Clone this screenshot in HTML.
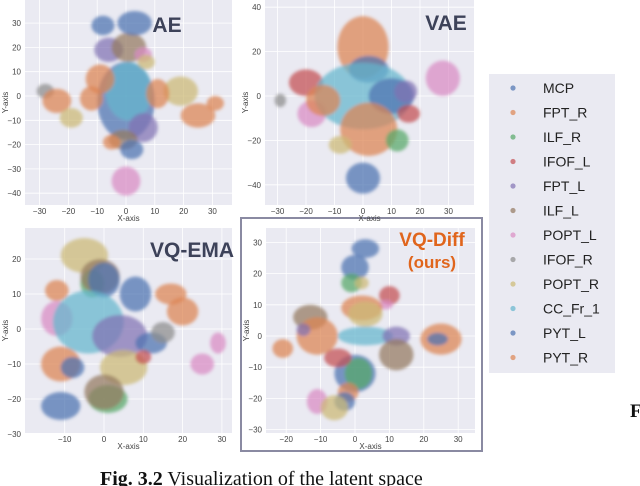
<!DOCTYPE html>
<html><head><meta charset="utf-8">
<style>
html,body{margin:0;padding:0;background:#fff;}
body{width:640px;height:486px;overflow:hidden;position:relative;font-family:"Liberation Sans",sans-serif;}
svg{position:absolute;left:0;top:0;}
</style></head>
<body>
<svg id="fig" width="640" height="486" viewBox="0 0 640 486" xmlns="http://www.w3.org/2000/svg">
<defs><filter id="soft" x="-20%" y="-20%" width="140%" height="140%"><feGaussianBlur stdDeviation="1.5"/></filter></defs>
<rect x="241" y="218" width="241" height="233" fill="#fff" stroke="#8a8aa2" stroke-width="2"/>
<g id="panels"></g>
<g id="legend"></g>
<text x="100" y="485" font-family="Liberation Serif, serif" font-size="20" fill="#111"><tspan font-weight="bold">Fig. 3.2</tspan> Visualization of the latent space</text>
<text x="630" y="417" font-family="Liberation Serif, serif" font-size="19" font-weight="bold" fill="#111">F</text>
</svg>
<script>
const classNames=["MCP","FPT_R","ILF_R","IFOF_L","FPT_L","ILF_L","POPT_L","IFOF_R","POPT_R","CC_Fr_1","PYT_L","PYT_R"];
const classColors=["#4c72b0","#dd8452","#55a868","#c44e52","#8172b3","#937860","#da8bc3","#8c8c8c","#ccb974","#64b5cd","#4c72b0","#dd8452"];
// clusters: [classIndex, cx, cy, rx, ry] in data units
const aeClusters=[[0,0,-2,10,16],[9,1,2,8,12],[1,-9,7,5,6],[1,-12,-1,4,5],[4,-6,19,5,5],[5,1,20,6,6],[6,6,17,3,3],[8,7,14,3,3],[0,-8,29,4,4],[0,3,30,6,5],[4,6,-13,5,6],[7,-28,2,3,3],[1,-24,-2,5,5],[8,-19,-9,4,4],[8,19,2,6,6],[1,11,1,4,6],[1,25,-8,6,5],[1,31,-3,3,3],[5,-1,-18,5,4],[1,-5,-19,3,3],[0,2,-22,4,4],[6,0,-35,5,6]];
const vaeClusters=[[1,0,22,9,14],[0,2,12,7,6],[3,-20,6,6,6],[7,-29,-2,2,3],[6,-18,-8,5,6],[9,0,0,17,15],[1,-14,-2,6,7],[0,10,0,8,8],[4,15,2,4,5],[6,28,8,6,8],[1,2,-15,10,12],[2,12,-20,4,5],[8,-8,-22,4,4],[3,16,-8,4,4],[0,0,-37,6,7]];
const emaClusters=[[8,-5,21,6,5],[2,-3,13,3,4],[5,-1,15,5,5],[0,0,14,4,5],[0,8,10,4,5],[1,-12,11,3,3],[1,17,10,4,3],[1,20,5,4,4],[6,-12,3,4,5],[9,-4,2,9,9],[4,4,-2,7,6],[0,12,-4,4,3],[7,15,-1,3,3],[1,-11,-10,5,5],[0,-8,-11,3,3],[8,5,-11,6,5],[3,10,-8,2,2],[6,25,-10,3,3],[6,29,-4,2,3],[2,1,-20,5,4],[5,0,-18,5,5],[0,-11,-22,5,4]];
const diffClusters=[[0,3,28,4,3],[0,0,22,4,4],[2,-1,17,3,3],[8,2,17,2,2],[3,10,13,3,3],[6,9,10,2,1.5],[1,2,9,6,4],[8,3,7,5,4],[5,-13,6,5,4],[1,-11,0,6,6],[4,-15,2,2,2],[9,3,0,8,3],[4,12,0,4,3],[5,12,-6,5,5],[1,25,-1,6,5],[0,24,-1,3,2],[1,-21,-4,3,3],[0,0,-12,6,6],[2,1,-12,4,5],[3,-5,-7,4,3],[1,-2,-18,3,3],[0,-3,-21,3,3],[6,-11,-21,3,4],[8,-6,-23,4,4]];
const aeXTicks=[-30,-20,-10,0,10,20,30], aeYTicks=[30,20,10,0,-10,-20,-30,-40];
const vaeXTicks=[-30,-20,-10,0,10,20,30], vaeYTicks=[40,20,0,-20,-40];
const emaXTicks=[-10,0,10,20,30], emaYTicks=[20,10,0,-10,-20,-30];
const diffXTicks=[-20,-10,0,10,20,30], diffYTicks=[30,20,10,0,-10,-20,-30];

const NS="http://www.w3.org/2000/svg";
function mk(tag,attrs,parent){const e=document.createElementNS(NS,tag);for(const k in attrs)e.setAttribute(k,attrs[k]);parent.appendChild(e);return e;}
const root=document.getElementById('panels');
function panel(name,box,x0,kx,y0,ky,xt,yt,clusters){
  const g=mk('g',{},root);
  
  
  const X=v=>x0+v*kx, Y=v=>y0-v*ky;
  const bg=mk('rect',{x:box[0],y:box[1],width:box[2]-box[0],height:box[3]-box[1],fill:'#eaeaf2'},g);
  
  
  xt.forEach(t=>{mk('line',{x1:X(t),x2:X(t),y1:box[1],y2:box[3],stroke:'#fff','stroke-width':0.8},g);
    const l=mk('text',{x:X(t),y:box[3]+9,'font-size':8,'text-anchor':'middle',fill:'#444'},g);l.textContent=t<0?'\u2212'+(-t):t;
    
    });
  yt.forEach(t=>{mk('line',{x1:box[0],x2:box[2],y1:Y(t),y2:Y(t),stroke:'#fff','stroke-width':0.8},g);
    const l=mk('text',{x:box[0]-4,y:Y(t)+3,'font-size':8,'text-anchor':'end',fill:'#444'},g);l.textContent=t<0?'\u2212'+(-t):t;
    
    });
  const cg=mk('g',{filter:'url(#soft)'},g);
  clusters.forEach(c=>{
    const e=mk('ellipse',{cx:X(c[1]),cy:Y(c[2]),rx:c[3]*kx,ry:c[4]*ky,fill:classColors[c[0]],'fill-opacity':0.72},cg);
    
    
  });
  const xl=mk('text',{x:(box[0]+box[2])/2,y:box[3]+16,'font-size':8,'text-anchor':'middle',fill:'#444'},g);xl.textContent='X-axis';
  
  
  const yc=(box[1]+box[3])/2;
  const yl=mk('text',{x:box[0]-17,y:yc,'font-size':8,'text-anchor':'middle',fill:'#444',transform:`rotate(-90 ${box[0]-17} ${yc})`},g);yl.textContent='Y-axis';
  
  
  return g;
}
const gAE=panel('ae',[25,0,232,205],126,2.88,96,2.43,aeXTicks,aeYTicks,aeClusters);
const gVAE=panel('vae',[265,0,474,205],363,2.85,96,2.22,vaeXTicks,vaeYTicks,vaeClusters);
const gEMA=panel('vq-ema',[25,228,232,433],104,3.93,329,3.5,emaXTicks,emaYTicks,emaClusters);
const gDiff=panel('vq-diff',[266,228,475,433],355,3.44,336,3.12,diffXTicks,diffYTicks,diffClusters);
function title(g,txt,x,y,size,color,name){const t=mk('text',{x:x,y:y,'font-size':size,'font-weight':'bold','text-anchor':'middle',fill:color},g);t.textContent=txt;
  
  }
title(gAE,'AE',167,32,21,'#3d4259','ae-title');
title(gVAE,'VAE',446,30,21,'#3d4259','vae-title');
title(gEMA,'VQ-EMA',192,257,21,'#3d4259','vq-ema-title');
title(gDiff,'VQ-Diff',432,246,19,'#e0651c','vq-diff-title');
title(gDiff,'(ours)',432,268,17,'#e0651c','vq-diff-subtitle');
const lg=document.getElementById('legend');
mk('rect',{x:489,y:74,width:126,height:299,fill:'#eaeaf2'},lg);
classNames.forEach((n,i)=>{
  const y=88+i*24.5;
  const c=mk('circle',{cx:513,cy:y,r:2.6,fill:classColors[i],'fill-opacity':0.7},lg);
  
  
  const t=mk('text',{x:543,y:y+5,'font-size':14,fill:'#222'},lg);t.textContent=n;
  
  
});
</script>
</body></html>
